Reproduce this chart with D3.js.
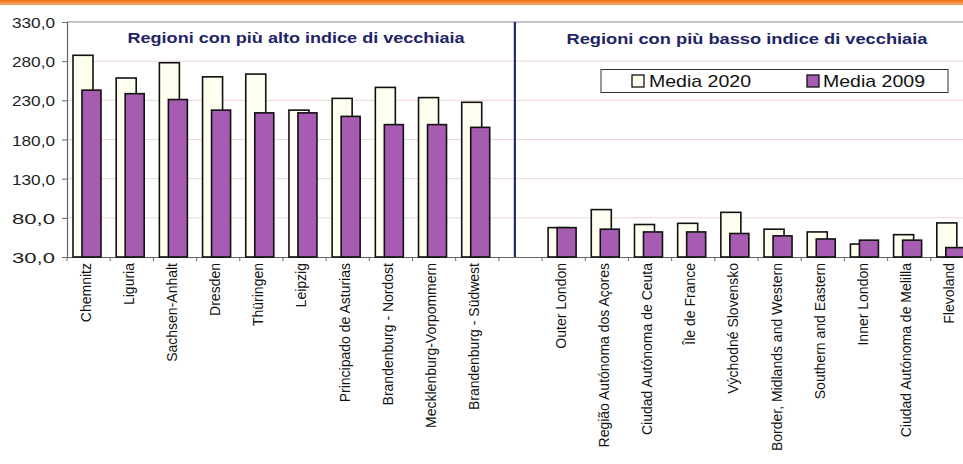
<!DOCTYPE html>
<html><head><meta charset="utf-8">
<script src="https://cdn.jsdelivr.net/npm/d3@7"></script>
<style>
html,body{margin:0;padding:0;background:#fff;}
svg{display:block;font-family:"Liberation Sans",Arial,sans-serif;}
</style></head>
<body>
<svg id="chart" width="963" height="464"></svg>
<script>
// ---- data ----
const highRegions = ["Chemnitz","Liguria","Sachsen-Anhalt","Dresden","Thüringen","Leipzig","Principado de Asturias","Brandenburg - Nordost","Mecklenburg-Vorpommern","Brandenburg - Südwest"];
const high2020 = [287.5, 258.5, 278, 260, 263.5, 217.5, 232.5, 246.5, 233.5, 227.5];
const high2009 = [243, 238.5, 231, 217.5, 214, 214, 209.5, 199, 199, 195.5];
const lowRegions = ["Outer London","Região Autónoma dos Açores","Ciudad Autónoma de Ceuta","Île de France","Východné Slovensko","Border, Midlands and Western","Southern and Eastern","Inner London","Ciudad Autónoma de Melilla","Flevoland"];
const low2020 = [67.5, 90.5, 71.5, 73, 87, 65.5, 62, 46.5, 58.5, 73.5];
const low2009 = [67.5, 65.5, 62, 62, 60, 57, 53, 51.5, 51.5, 42];
const yTicks = [30, 80, 130, 180, 230, 280, 330];
const seriesNames = ["Media 2020", "Media 2009"];
const groupTitles = ["Regioni con più alto indice di vecchiaia", "Regioni con più basso indice di vecchiaia"];

// ---- build rows ----
const rows = [];
highRegions.forEach((r,i)=>rows.push({name:r, v2020:high2020[i], v2009:high2009[i]}));
rows.push({name:"", v2020:null, v2009:null});
lowRegions.forEach((r,i)=>rows.push({name:r, v2020:low2020[i], v2009:low2009[i]}));

const svg = d3.select("#chart");
const L = 67, R = 974, T = 22, B = 257;
const x = d3.scaleBand().domain(d3.range(rows.length)).range([L, R]).padding(0);
const y = d3.scaleLinear().domain([30, 330]).range([B, T]);
const bw = x.bandwidth();

// top orange band
const defs = svg.append("defs");
const g = defs.append("linearGradient").attr("id","orange").attr("x1",0).attr("y1",0).attr("x2",0).attr("y2",1);
g.append("stop").attr("offset","0%").attr("stop-color","#ee6a10");
g.append("stop").attr("offset","100%").attr("stop-color","#f7b070");
svg.append("rect").attr("x",0).attr("y",0).attr("width",963).attr("height",5).attr("fill","url(#orange)");

// gridlines
svg.append("g").selectAll("line").data(yTicks.filter(t=>t>30 && t<330)).join("line")
  .attr("x1",L).attr("x2",R).attr("y1",d=>y(d)).attr("y2",d=>y(d))
  .attr("stroke","#ecd6d6").attr("stroke-width",1);
svg.append("line").attr("x1",L).attr("x2",R).attr("y1",y(330)).attr("y2",y(330))
  .attr("stroke","#8a8a8a").attr("stroke-width",1.2);

// y axis
const yAxis = d3.axisLeft(y).tickValues(yTicks).tickSize(5).tickPadding(7)
  .tickFormat(d=>d3.format(".1f")(d).replace(".",","));
const ya = svg.append("g").attr("transform",`translate(${L},0)`).call(yAxis);
ya.select(".domain").attr("stroke","#666").attr("stroke-width",1.2);
ya.selectAll(".tick line").attr("stroke","#666");
ya.selectAll("text").attr("font-size",15.5).attr("fill","#222").attr("font-family","Liberation Sans, Arial, sans-serif")
  .attr("dy","0.36em").attr("textLength",43).attr("lengthAdjust","spacingAndGlyphs");

// x axis
const xAxis = d3.axisBottom(x).tickSize(0).tickFormat("");
const xa = svg.append("g").attr("transform",`translate(0,${B})`).call(xAxis);
xa.select(".domain").attr("stroke","#666").attr("stroke-width",1.2);
// boundary tick marks
svg.append("g").selectAll("line").data(d3.range(rows.length+1)).join("line")
  .attr("x1",i=>L+i*bw).attr("x2",i=>L+i*bw).attr("y1",B).attr("y2",B+4)
  .attr("stroke","#666").attr("stroke-width",1);

// bars
const barW = 20;
const bars = svg.append("g");
rows.forEach((d,i)=>{
  if (d.v2020 == null) return;
  bars.append("rect").attr("x",x(i)+6).attr("y",y(d.v2020)).attr("width",barW).attr("height",y(30)-y(d.v2020))
    .attr("fill","#fffff0").attr("stroke","#111").attr("stroke-width",1.6);
  bars.append("rect").attr("x",x(i)+15).attr("y",y(d.v2009)).attr("width",barW-1).attr("height",y(30)-y(d.v2009))
    .attr("fill","#a65cb0").attr("stroke","#111").attr("stroke-width",1.6);
});

// x labels
svg.append("g").selectAll("text").data(rows).join("text")
  .attr("transform",(d,i)=>`translate(${x(i)+bw/2-3},${B+6}) rotate(-90)`)
  .attr("text-anchor","end").attr("dy","0.35em")
  .attr("font-size",14).attr("fill","#111")
  .text(d=>d.name);

// divider
svg.append("line").attr("x1",x(10)+bw*0.37).attr("x2",x(10)+bw*0.37).attr("y1",T).attr("y2",B)
  .attr("stroke","#1c2a78").attr("stroke-width",2.2);

// group titles
svg.append("text").attr("x",296).attr("y",43).attr("text-anchor","middle")
  .attr("font-size",15).attr("font-weight","bold").attr("fill","#1e2466")
  .attr("textLength",337).attr("lengthAdjust","spacingAndGlyphs").text(groupTitles[0]);
svg.append("text").attr("x",747).attr("y",44).attr("text-anchor","middle")
  .attr("font-size",15).attr("font-weight","bold").attr("fill","#1e2466")
  .attr("textLength",361).attr("lengthAdjust","spacingAndGlyphs").text(groupTitles[1]);

// legend
const lg = svg.append("g");
lg.append("rect").attr("x",601).attr("y",69.5).attr("width",347).attr("height",23)
  .attr("fill","#fff").attr("stroke","#333").attr("stroke-width",1);
const legItems = [{name:seriesNames[0], fill:"#fffff0", sx:632, tx:649},{name:seriesNames[1], fill:"#a65cb0", sx:807, tx:823}];
legItems.forEach(it=>{
  lg.append("rect").attr("x",it.sx).attr("y",75).attr("width",12).attr("height",12)
    .attr("fill",it.fill).attr("stroke","#111").attr("stroke-width",1.3);
  lg.append("text").attr("x",it.tx).attr("y",87).attr("font-size",17).attr("fill","#111")
    .attr("textLength",102).attr("lengthAdjust","spacingAndGlyphs").text(it.name);
});
</script>
</body></html>
